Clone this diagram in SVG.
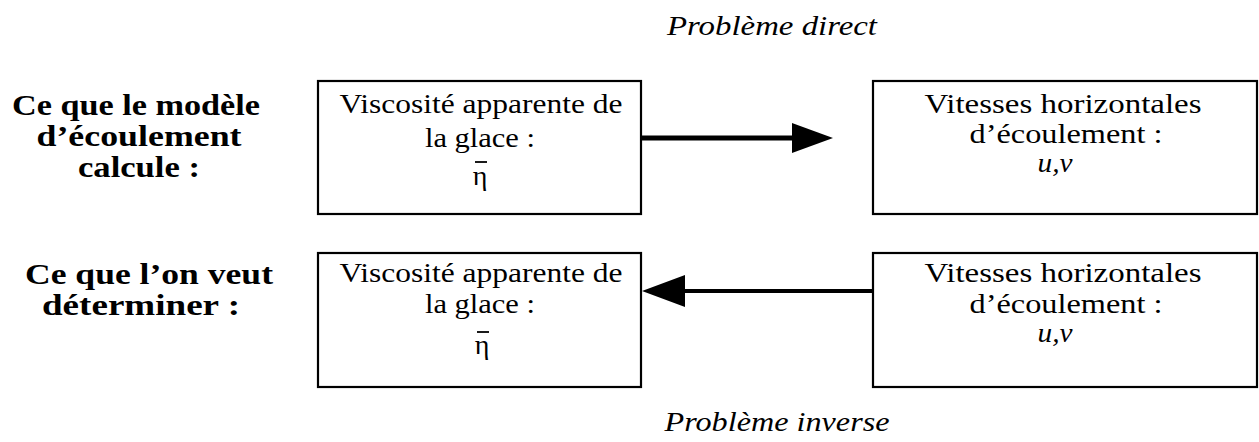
<svg xmlns="http://www.w3.org/2000/svg" width="1259" height="442" viewBox="0 0 1259 442">
<style>
.box{fill:#fff;stroke:#000;stroke-width:2.2}
.t{font-family:"Liberation Serif","DejaVu Serif",serif;font-size:28px;fill:#000;text-anchor:middle}
.b{font-family:"Liberation Serif","DejaVu Serif",serif;font-size:29px;font-weight:bold;fill:#000;text-anchor:middle}
.i{font-family:"Liberation Serif","DejaVu Serif",serif;font-size:28px;font-style:italic;fill:#000;text-anchor:middle}
.bar{stroke:#000;stroke-width:1.8}
.conn{stroke:#000;fill:none}
</style>
<rect width="1259" height="442" fill="#fff"/>
<g id="title-direct"><text class="i" x="772" y="35" textLength="210" lengthAdjust="spacingAndGlyphs">Problème direct</text></g>
<g id="title-inverse"><text class="i" x="777" y="431" textLength="225" lengthAdjust="spacingAndGlyphs">Problème inverse</text></g>
<g id="label-modele">
<text class="b" x="136" y="115" textLength="248" lengthAdjust="spacingAndGlyphs">Ce que le modèle</text>
<text class="b" x="139" y="146" textLength="205" lengthAdjust="spacingAndGlyphs">d’écoulement</text>
<text class="b" x="139" y="177" textLength="122" lengthAdjust="spacingAndGlyphs">calcule :</text>
</g>
<g id="label-determiner">
<text class="b" x="149" y="284" textLength="248" lengthAdjust="spacingAndGlyphs">Ce que l’on veut</text>
<text class="b" x="141" y="315" textLength="198" lengthAdjust="spacingAndGlyphs">déterminer :</text>
</g>
<g id="node-visc-top">
<rect class="box" x="318" y="81" width="323" height="133"/>
<text class="t" x="481" y="113" textLength="283" lengthAdjust="spacingAndGlyphs">Viscosité apparente de</text>
<text class="t" x="480" y="147" textLength="110" lengthAdjust="spacingAndGlyphs">la glace :</text>
<line class="bar" x1="475" y1="162" x2="487" y2="162"/>
<text class="t" x="480" y="185">η</text>
</g>
<g id="node-vit-top">
<rect class="box" x="873" y="81" width="384" height="133"/>
<text class="t" x="1063" y="113" textLength="277" lengthAdjust="spacingAndGlyphs">Vitesses horizontales</text>
<text class="t" x="1066" y="143" textLength="193" lengthAdjust="spacingAndGlyphs">d’écoulement :</text>
<text class="i" x="1055" y="172" textLength="35" lengthAdjust="spacingAndGlyphs">u,v</text>
</g>
<g id="node-visc-bot">
<rect class="box" x="318" y="253" width="323" height="134"/>
<text class="t" x="481" y="282" textLength="283" lengthAdjust="spacingAndGlyphs">Viscosité apparente de</text>
<text class="t" x="480" y="313" textLength="110" lengthAdjust="spacingAndGlyphs">la glace :</text>
<line class="bar" x1="477" y1="332" x2="489" y2="332"/>
<text class="t" x="482" y="354">η</text>
</g>
<g id="node-vit-bot">
<rect class="box" x="873" y="253" width="384" height="134"/>
<text class="t" x="1063" y="282" textLength="277" lengthAdjust="spacingAndGlyphs">Vitesses horizontales</text>
<text class="t" x="1066" y="313" textLength="193" lengthAdjust="spacingAndGlyphs">d’écoulement :</text>
<text class="i" x="1055" y="342" textLength="35" lengthAdjust="spacingAndGlyphs">u,v</text>
</g>
<g id="connectors">
<line class="conn" x1="641" y1="138" x2="794" y2="138" stroke-width="5"/>
<polygon points="792,123 833,138 792,153" fill="#000"/>
<line class="conn" x1="683" y1="291" x2="873" y2="291" stroke-width="4"/>
<polygon points="685,275 642,291 685,307" fill="#000"/>
</g>
</svg>
